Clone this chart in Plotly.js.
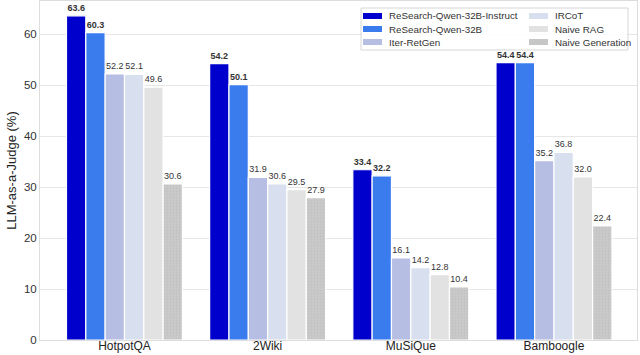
<!DOCTYPE html>
<html>
<head>
<meta charset="utf-8">
<script src="https://cdn.plot.ly/plotly-3.0.1.min.js"></script>
<style>
  html, body { margin: 0; padding: 0; background: #fff; }
  #chart { width: 640px; height: 355px; }
</style>
</head>
<body>
<div id="chart"></div>
<script>
// === Data ===
const datasets = ['HotpotQA', '2Wiki', 'MuSiQue', 'Bamboogle'];
const methods = ['ReSearch-Qwen-32B-Instruct', 'ReSearch-Qwen-32B', 'Iter-RetGen', 'IRCoT', 'Naive RAG', 'Naive Generation'];
const researchInstruct = [63.6, 54.2, 33.4, 54.4];
const researchBase = [60.3, 50.1, 32.2, 54.4];
const iterRetGen = [52.2, 31.9, 16.1, 35.2];
const ircot = [52.1, 30.6, 14.2, 36.8];
const naiveRag = [49.6, 29.5, 12.8, 32.0];
const naiveGen = [30.6, 27.9, 10.4, 22.4];

const seriesValues = [researchInstruct, researchBase, iterRetGen, ircot, naiveRag, naiveGen];
const colors = ['#0000CD', '#3A7CEE', '#B6BEE3', '#D8DFEE', '#E2E2E2', '#C6C6C6'];

// === Bars ===
const traces = methods.map((name, i) => ({
  type: 'bar',
  name: name,
  x: datasets,
  y: seriesValues[i],
  marker: {
    color: colors[i],
    line: { color: '#ffffff', width: 1.2 },
    pattern: i === 5 ? { shape: '.', fgcolor: '#bfbfbf', bgcolor: '#c9c9c9', size: 3, solidity: 0.15 } : undefined
  },
  text: seriesValues[i].map(v => v.toFixed(1)),
  texttemplate: i < 2 ? '<b>%{text}</b>' : '%{text}',
  textposition: 'outside',
  textfont: { size: 9, color: '#333333', family: 'Liberation Sans, Arial, sans-serif' },
  cliponaxis: false,
  showlegend: false,
  hoverinfo: 'name+y'
}));

// === Legend (2 kolom, gaya matplotlib) ===
const ML = 40, MT = 1, MR = 3, MB = 15;
const PW = 640 - ML - MR, PH = 355 - MT - MB;
const px = x => (x - ML) / PW;
const py = y => 1 - (y - MT) / PH;

const legBox = { left: 361, top: 8, right: 628, bottom: 50 };
const legCols = [363, 529];
const legRows = [16, 29, 42];

const shapes = [{
  type: 'rect', xref: 'paper', yref: 'paper', layer: 'above',
  x0: px(legBox.left), x1: px(legBox.right), y0: py(legBox.bottom), y1: py(legBox.top),
  fillcolor: 'rgba(255,255,255,0.85)', line: { color: '#d6d6d6', width: 1 }
}];
const annotations = [];
methods.forEach((name, i) => {
  const cx = legCols[Math.floor(i / 3)];
  const cy = legRows[i % 3];
  shapes.push({
    type: 'rect', xref: 'paper', yref: 'paper', layer: 'above',
    x0: px(cx), x1: px(cx + 19), y0: py(cy + 3), y1: py(cy - 3),
    fillcolor: colors[i], line: { width: 0 }
  });
  annotations.push({
    xref: 'paper', yref: 'paper', x: px(cx + 24), y: py(cy),
    xanchor: 'left', yanchor: 'middle', showarrow: false,
    text: name, font: { size: 9.8, color: '#333333' }
  });
});

const layout = {
  width: 640,
  height: 355,
  margin: { l: ML, r: MR, t: MT, b: MB },
  font: { family: 'Liberation Sans, Arial, sans-serif', color: '#333333' },
  paper_bgcolor: '#ffffff',
  plot_bgcolor: '#ffffff',
  barmode: 'group',
  bargap: 0.19,
  bargroupgap: 0,
  showlegend: false,
  shapes: shapes,
  annotations: annotations,
  xaxis: {
    range: [-0.59, 3.58],
    tickfont: { size: 12, color: '#222222' },
    showline: true, linecolor: '#dddddd', mirror: true,
    ticks: '',
    ticklabelstandoff: -5
  },
  yaxis: {
    title: { text: 'LLM-as-a-Judge (%)', font: { size: 13, color: '#222222' }, standoff: 4 },
    range: [0, 66.5],
    dtick: 10,
    tickfont: { size: 11.5, color: '#333333' },
    gridcolor: '#e6e6e6',
    showline: true, linecolor: '#dddddd', mirror: true,
    zeroline: false,
    ticks: ''
  }
};

Plotly.newPlot('chart', traces, layout, { displayModeBar: false, staticPlot: true });
</script>
</body>
</html>
